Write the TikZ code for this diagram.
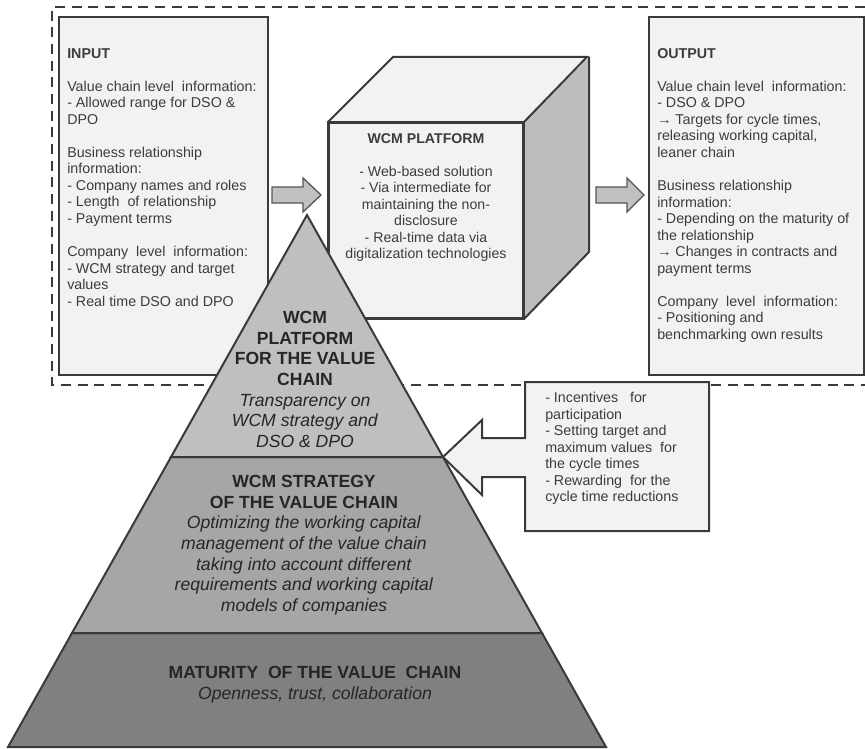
\documentclass[tikz,border=0pt]{standalone}
\usepackage{fontspec}
\setmainfont{Liberation Sans}
\definecolor{linec}{HTML}{3A3A3A}
\definecolor{panelfill}{HTML}{F2F2F2}
\definecolor{arrowfill}{HTML}{C0C0C0}
\definecolor{arrowline}{HTML}{555555}
\definecolor{sideface}{HTML}{BDBDBD}
\definecolor{layertop}{HTML}{BFBFBF}
\definecolor{layermid}{HTML}{A6A6A6}
\definecolor{layerbot}{HTML}{808080}
\definecolor{txt}{HTML}{3C3C3C}
\definecolor{pyrtxt}{HTML}{262626}
\begin{document}
\begin{tikzpicture}[x=0.75pt,y=-0.75pt,
  outline/.style={draw=linec, line width=1.5pt, line join=miter},
  panel/.style={outline, fill=panelfill, inner sep=0pt, anchor=north west},
  blockarrow/.style={draw=arrowline, line width=1pt, fill=arrowfill, line join=miter},
  boxtext/.style={inner sep=0pt, align=left, anchor=north west, text=txt,
    font=\fontsize{10.7}{12.4}\selectfont},
  cubetext/.style={inner sep=0pt, align=center, anchor=north, text=txt,
    font=\fontsize{10.6}{12.4}\selectfont},
  pyrtext/.style={inner sep=0pt, align=center, anchor=north, text=pyrtxt,
    font=\fontsize{13.2}{15.5}\selectfont},
  frame/.style={draw=linec, line width=1.5pt, dash pattern=on 7.5pt off 5pt}
]
\useasboundingbox (0,0) rectangle (865,749);

% dashed frame around the platform level
\coordinate (frTR) at (865,7);
\coordinate (frTL) at (52,7);
\coordinate (frBL) at (52,385);
\coordinate (frBR) at (865,385);
\draw[frame] (frTR) -- (frTL) -- (frBL) -- (frBR);

% input and output panels
\node[panel, minimum width=156.75pt, minimum height=268.5pt] (input) at (58,16) {};
\node[boxtext] (inputtxt) at ([shift={(9,32)}]input.north west) {%
\textbf{INPUT}\\[12.4pt]
Value chain level\ \ information:\\
- Allowed range for DSO \&\\
DPO\\[12.4pt]
Business relationship\\
information:\\
- Company names and roles\\
- Length\ \ of relationship\\
- Payment terms\\[12.4pt]
Company\ \ level\ \ information:\\
- WCM strategy and target\\
values\\
- Real time DSO and DPO};

\node[panel, minimum width=161.25pt, minimum height=268.5pt] (output) at (648,16) {};
\node[boxtext] (outputtxt) at ([shift={(9,32)}]output.north west) {%
\textbf{OUTPUT}\\[12.4pt]
Value chain level\ \ information:\\
- DSO \& DPO\\
→ Targets for cycle times,\\
releasing working capital,\\
leaner chain\\[12.4pt]
Business relationship\\
information:\\
- Depending on the maturity of\\
the relationship\\
→ Changes in contracts and\\
payment terms\\[12.4pt]
Company\ \ level\ \ information:\\
- Positioning and\\
benchmarking own results};

% block arrows into and out of the platform
\draw[blockarrow] (272,187) -- (303,187) -- (303,178) -- (321,195)
  -- (303,212) -- (303,203) -- (272,203) -- cycle;
\draw[blockarrow] (596,187) -- (627,187) -- (627,178) -- (644,195)
  -- (627,212) -- (627,203) -- (596,203) -- cycle;

% platform cube
\node[panel, minimum width=145.5pt, minimum height=146.25pt] (cube) at (328,122) {};
\fill[panelfill] (cube.north west) -- ++(65,-65) -- ++(194,0) -- (cube.north east) -- cycle;
\fill[sideface] (cube.north east) -- ++(65,-65) -- ++(0,195) -- (cube.south east) -- cycle;
\draw[outline] (cube.north west) -- ++(65,-65) -- ++(194,0) -- (cube.north east);
\draw[outline] ([shift={(65,-65)}]cube.north east) -- ++(0,195) -- (cube.south east);
\draw[outline] (cube.north west) rectangle (cube.south east);
\node[cubetext] (cubetxt) at ([shift={(0,11)}]cube.north) {%
\textbf{WCM PLATFORM}\\[12.4pt]
- Web-based solution\\
- Via intermediate for\\
maintaining the non-\\
disclosure\\
- Real-time data via\\
digitalization technologies};

% pyramid of the value chain
\coordinate (apex) at (307,215);
\coordinate (t1l) at (171,457);
\coordinate (t1r) at (443,457);
\coordinate (t2l) at (72,633);
\coordinate (t2r) at (542,633);
\coordinate (bl) at (8,747);
\coordinate (br) at (606,747);
\filldraw[outline, fill=layerbot] (t2l) -- (t2r) -- (br) -- (bl) -- cycle;
\filldraw[outline, fill=layermid] (t1l) -- (t1r) -- (t2r) -- (t2l) -- cycle;
\filldraw[outline, fill=layertop] (apex) -- (t1r) -- (t1l) -- cycle;

\node[pyrtext] (toptxt) at (305,311) {%
\textbf{WCM}\\
\textbf{PLATFORM}\\
\textbf{FOR THE VALUE}\\
\textbf{CHAIN}\\
\textit{Transparency on}\\
\textit{WCM strategy and}\\
\textit{DSO \& DPO}};
\node[pyrtext] (midtxt) at (304,475) {%
\textbf{WCM STRATEGY}\\
\textbf{OF THE VALUE CHAIN}\\
\textit{Optimizing the working capital}\\
\textit{management of the value chain}\\
\textit{taking into account different}\\
\textit{requirements and working capital}\\
\textit{models of companies}};
\node[pyrtext] (bottxt) at (315,666) {%
\textbf{MATURITY\ \ OF THE VALUE\ \ CHAIN}\\
\textit{Openness, trust, collaboration}};

% callout pointing at the platform layer
\filldraw[outline, fill=panelfill] (525,382) -- (709,382) -- (709,531) -- (525,531)
  -- (525,477) -- (482,477) -- (482,495) -- (t1r) -- (482,420) -- (482,438)
  -- (525,438) -- cycle;
\node[boxtext] (calltxt) at (545,392) {%
- Incentives\ \ \ for\\
participation\\
- Setting target and\\
maximum values\ \ for\\
the cycle times\\
- Rewarding\ \ for the\\
cycle time reductions};
\end{tikzpicture}
\end{document}
